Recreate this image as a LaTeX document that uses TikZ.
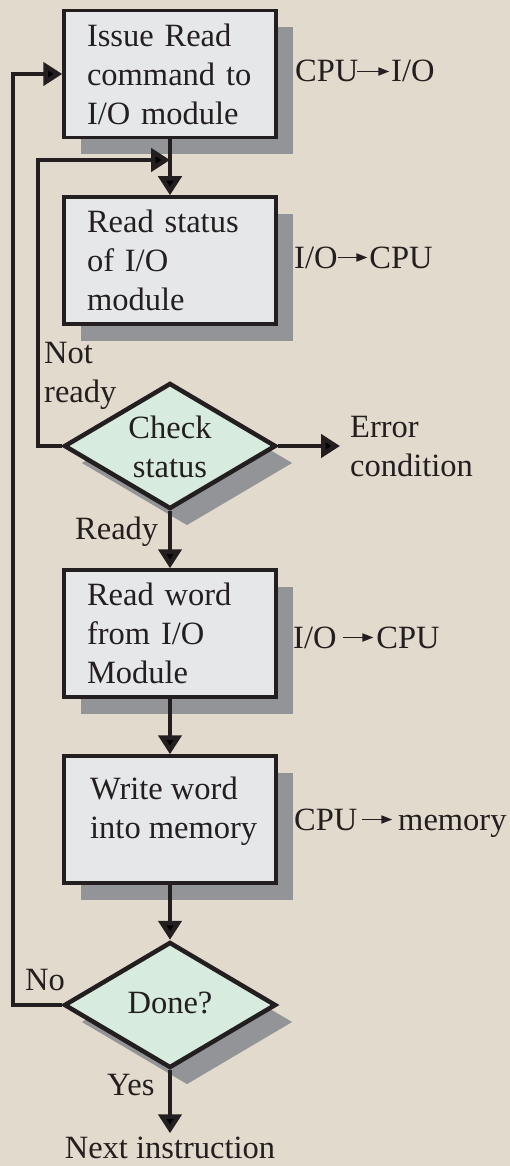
\documentclass[tikz,border=0pt]{standalone}
\usepackage{fontspec}
\setmainfont{Liberation Serif}
\usetikzlibrary{arrows.meta,shapes.geometric,shadows}
\definecolor{bgc}{RGB}{226,218,204}
\definecolor{boxc}{RGB}{230,231,233}
\definecolor{shc}{RGB}{146,148,151}
\definecolor{diac}{RGB}{215,235,222}
\definecolor{inkc}{RGB}{35,31,32}
\newcommand{\flowarr}[1]{\tikz[baseline={(0pt,-10.5pt)}]\draw[inkc,line width=1.8pt,-{Triangle[length=11pt,width=8pt]}] (0pt,0pt) -- (#1,0pt);}
\begin{document}
\begin{tikzpicture}[x=1pt,y=-1pt,
  every node/.style={font=\fontsize{32.5}{39}\selectfont, text=inkc},
  shad/.style={drop shadow={shadow xshift=17pt,shadow yshift=-17pt,fill=shc,opacity=1}},
  procbox/.style={rectangle,draw=inkc,line width=3.5pt,fill=boxc,minimum width=212pt,minimum height=127pt,shad,inner sep=0pt,text width=166pt,align=left},
  decis/.style={diamond,draw=inkc,line width=4.5pt,fill=diac,minimum width=212pt,minimum height=126pt,shad,inner sep=0pt},
  flow/.style={draw=inkc,line width=4.5pt,-{Triangle[length=19pt,width=23pt]}},
  lbl/.style={inner sep=0pt,align=left}
]
\fill[bgc] (0,0) rectangle (510,1166);
\useasboundingbox (0,0) rectangle (510,1166);

% process boxes and decisions
\node[procbox] (b1) at (170,74) {Issue Read\\command to\\I/O module};
\node[procbox] (b2) at (170,260.5) {Read status\\of I/O\\module};
\node[decis] (d1) at (170,446) {};
\node[align=center,inner sep=0pt] (t1) at (170,447) {Check\\status};
\node[procbox] (b3) at (170,633.5) {Read word\\from I/O\\Module};
\node[procbox] (b4) at (170,819.5) {};
\node[lbl,anchor=north west] (t4) at (90,776.5) {Write word\\into memory};
\node[decis] (d2) at (170,1005) {};
\node[inner sep=0pt] (t2) at (170,1003) {Done?};

% side labels
\node[lbl,anchor=base west] (l1) at (295,82) {CPU\kern-2pt\flowarr{32pt}\kern1pt I/O};
\node[lbl,anchor=base west] (l2) at (294,268) {I/O\kern0pt\flowarr{29pt}\kern1pt CPU};
\node[lbl,anchor=base west] (l3) at (293,648) {I/O\kern6pt\flowarr{30pt}\kern2pt CPU};
\node[lbl,anchor=base west] (l4) at (294,830) {CPU\kern4pt\flowarr{30pt}\kern5pt memory};
\node[lbl,anchor=north west,inner xsep=10pt] (err) at (340,416.5) {Error\\condition};
\node[lbl,anchor=north west] (nr) at (44,342.5) {Not\\ready};
\node[lbl,anchor=base west] (rd) at (75,539) {Ready};
\node[lbl,anchor=base west] (no) at (25,990) {No};
\node[lbl,anchor=base west] (ys) at (107,1095) {Yes};
\node[anchor=base,inner sep=3pt] (nxt) at (170,1158) {Next instruction};

% connectors
\coordinate (j1) at (170,160);
\coordinate (il) at (38,160);
\coordinate (ol) at (13,1005);
\draw[flow] (b1.south) -- (b2.north);
\draw[flow] (d1.west) -| (il) -- (j1);
\draw[flow] (d1.east) -- (d1.east -| err.west);
\draw[flow] (d1.south) -- (b3.north);
\draw[flow] (b3.south) -- (b4.north);
\draw[flow] (b4.south) -- (d2.north);
\draw[flow] (d2.west) -- (ol) |- (b1.west);
\draw[flow] (d2.south) -- (nxt.north);
\end{tikzpicture}
\end{document}
